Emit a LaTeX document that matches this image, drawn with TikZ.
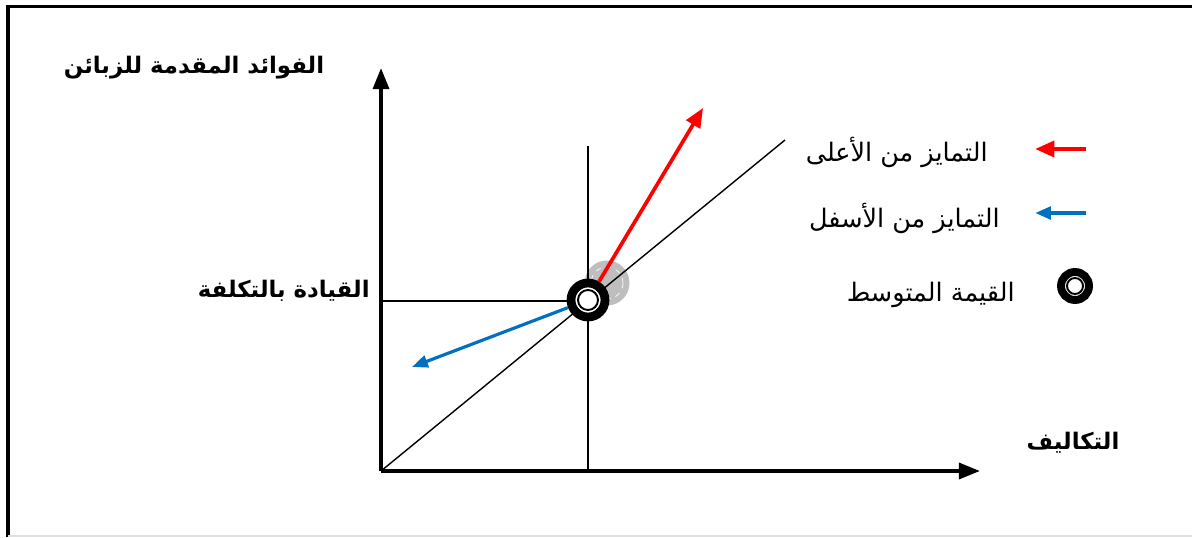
\documentclass[tikz,border=0pt]{standalone}
\usepackage{fontspec}
\newfontfamily\arabicfont[Script=Arabic]{DejaVu Sans}
\TeXXeTstate=1
\usetikzlibrary{arrows.meta,positioning}
\usepackage{xcolor}
\definecolor{upcol}{RGB}{255,0,0}
\definecolor{downcol}{RGB}{0,112,192}
\definecolor{glowcol}{RGB}{190,190,190}

\begin{document}
\begin{tikzpicture}[
  x=0.02cm, y=0.02cm,
  every node/.style={inner sep=0pt},
  lab/.style={font=\arabicfont\fontsize{14.5}{16}\selectfont},
  axlab/.style={font=\arabicfont\bfseries\fontsize{13}{15}\selectfont},
  axis/.style={-{Triangle[length=12pt,width=9pt]}, line width=2.2pt},
  thin/.style={line width=0.8pt},
  uparr/.style={-{Triangle[length=11pt,width=9pt]}, line width=2.1pt, draw=upcol, fill=upcol},
  downarr/.style={-{Triangle[length=9pt,width=7pt]}, line width=1.8pt, draw=downcol, fill=downcol},
  ring/.style={circle, draw=black, fill=white, line width=5pt},
  core/.style={circle, draw=black, fill=white, line width=1.1pt},
]
  \useasboundingbox (0,0) rectangle (1192,537);
  % frame
  \draw[line width=1.8pt] (8,0) -- (8,530.5) -- (1192,530.5);
  \draw[gray!25, line width=0.8pt] (8,1) -- (1192,1);
  % axes
  \coordinate (O) at (381,66);
  \coordinate (ytip) at (381,469);
  \coordinate (xtip) at (980,66);
  \coordinate (diag) at (785,397);
  \coordinate (avgtop) at (588,391);
  \coordinate (avgfoot) at (588,66);
  \coordinate (avgside) at (381,236);
  \coordinate (upend) at (703,429);
  \coordinate (downend) at (412,170);
  % glow behind the mean point
  \fill[glowcol] (607,254) circle (0.45cm);
  \draw[white, dashed, line width=0.4pt] (607,254) circle (0.32cm);
  \draw[thin] (O) -- (diag);
  \draw[thin] (avgfoot) -- (avgtop);
  \draw[thin] (avgside) -- (588,236);
  \draw[axis] (O) -- (ytip);
  \draw[axis] (O) -- (xtip);
  % mean point and the two moves
  \node[ring, minimum size=0.68cm] (avg) at (588,237) {};
  \node[core, minimum size=0.4cm] (avgin) at (avg) {};
  \draw[uparr] (avg) -- (upend);
  \draw[downarr] (avg) -- (downend);
  % axis labels
  \node[axlab] (ylab) at (194,469) {\beginR الفوائد المقدمة للزبائن\endR};
  \node[axlab, anchor=east] (leadlab) at (370,246) {\beginR القيادة بالتكلفة\endR};
  \node[axlab] (xlab) at (1073,94) {\beginR التكاليف\endR};
  % legend
  \coordinate (uptail) at (1086,388);
  \coordinate (uphead) at (1035,388);
  \coordinate (downtail) at (1086,324);
  \coordinate (downhead) at (1035,324);
  \draw[uparr, line width=2.4pt] (uptail) -- (uphead);
  \draw[downarr, line width=2.4pt] (downtail) -- (downhead);
  \node[ring, line width=4.5pt, minimum size=0.56cm] (key) at (1075,251) {};
  \node[core, minimum size=0.32cm] (keyin) at (key) {};
  \node[lab, anchor=east] (uplab) at (988,385) {\beginR التمايز من الأعلى\endR};
  \node[lab, anchor=east] (downlab) at (1000,319) {\beginR التمايز من الأسفل\endR};
  \node[lab, anchor=east] (keylab) at (1015,242) {\beginR القيمة المتوسط\endR};
\end{tikzpicture}
\end{document}
